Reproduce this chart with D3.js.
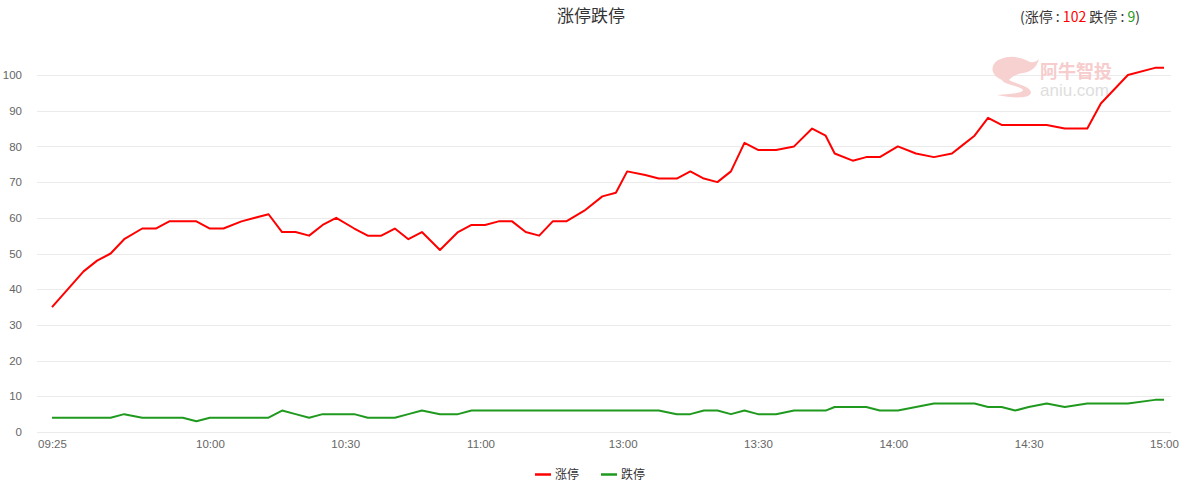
<!DOCTYPE html>
<html>
<head>
<meta charset="utf-8">
<script src="https://cdn.jsdelivr.net/npm/d3@7/dist/d3.min.js"></script>
<style>
  html, body { margin: 0; padding: 0; background: #fff; }
  svg { display: block; }
  text { font-family: "Liberation Sans", "Noto Sans CJK SC", sans-serif; }
  .cjk { font-family: "Noto Sans CJK SC", "Liberation Sans", sans-serif; }
</style>
</head>
<body>
<svg id="chart" width="1184" height="490"></svg>
<script>
// ---- data ----
const times = [
  "09:25","09:32","09:35","09:38","09:41","09:45","09:48","09:51","09:54",
  "09:57","10:00","10:03","10:07","10:10","10:13","10:16","10:19","10:22","10:25",
  "10:28","10:32","10:35","10:38","10:41","10:44","10:47","10:51","10:55","10:58",
  "11:01","11:04","11:07","11:10","11:13","11:16","11:19","11:23","11:27","11:30",
  "13:01","13:05","13:08","13:12","13:15","13:18","13:21","13:24","13:27","13:30",
  "13:34","13:38","13:42","13:45","13:47","13:51","13:54","13:57","14:01","14:05",
  "14:09","14:13","14:15","14:18","14:21","14:24","14:27","14:30","14:34","14:38",
  "14:43","14:46","14:49","14:52","14:58","15:00"
];
const limitUp = [
  35,45,48,50,54,57,57,59,59,
  59,57,57,59,60,61,56,56,55,58,
  60,57,55,55,57,54,56,51,56,58,
  58,59,59,56,55,59,59,62,66,67,
  73,72,71,71,73,71,70,73,81,79,
  79,80,85,83,78,76,77,77,80,78,
  77,78,80,83,88,86,86,86,86,85,
  85,92,96,100,102,102
];
const limitDown = [
  4,4,4,4,5,4,4,4,4,
  3,4,4,4,4,4,6,5,4,5,
  5,5,4,4,4,5,6,5,5,6,
  6,6,6,6,6,6,6,6,6,6,
  6,6,6,5,5,6,6,5,6,5,
  5,6,6,6,7,7,7,6,6,7,
  8,8,8,8,7,7,6,7,8,7,
  8,8,8,8,9,9
];
const xTickLabels = ["09:25","10:00","10:30","11:00","13:00","13:30","14:00","14:30","15:00"];
const yTicks = [0,10,20,30,40,50,60,70,80,90,100];
const seriesNames = ["涨停","跌停"];
const seriesColors = ["#ff0000","#1f9a1f"];
const titleText = "涨停跌停";
const summaryUp = 102, summaryDown = 9;

// trading-minute index (lunch break compressed)
const LUNCH_GAP = 1.5;
function tm(t) {
  const [h, m] = t.split(":").map(Number);
  const mins = h * 60 + m;
  if (mins <= 11 * 60 + 30) return mins - (9 * 60 + 25);
  return 125 + LUNCH_GAP + (mins - 13 * 60);
}

const svg = d3.select("#chart");
const gridLeft = 37, gridRight = 1171;

const x = d3.scaleLinear().domain([tm("09:25"), tm("15:00")]).range([52, 1164]);
const y = d3.scaleLinear().domain([0, 100]).range([432, 75]);

// grid
svg.append("g").selectAll("line").data(yTicks).join("line")
  .attr("x1", gridLeft).attr("x2", gridRight)
  .attr("y1", d => Math.round(y(d)) + 0.5).attr("y2", d => Math.round(y(d)) + 0.5)
  .attr("stroke", "#ebebeb").attr("stroke-width", 1);

// y axis
const yAxis = svg.append("g").attr("transform", "translate(22,0)")
  .call(d3.axisLeft(y).tickValues(yTicks).tickSize(0).tickPadding(0));
yAxis.select(".domain").remove();
yAxis.selectAll("text").attr("fill", "#666").style("font-size", "11.5px")
  .style("font-family", "Liberation Sans, sans-serif");

// x axis
const xAxis = svg.append("g").attr("transform", "translate(0,440)")
  .call(d3.axisBottom(x).tickValues(xTickLabels.map(tm))
    .tickFormat((d, i) => xTickLabels[i]).tickSize(0).tickPadding(0));
xAxis.select(".domain").remove();
xAxis.selectAll("text").attr("fill", "#666").style("font-size", "11.5px")
  .style("font-family", "Liberation Sans, sans-serif");

// watermark
const wm = svg.append("g");
wm.append("path")
  .attr("d", "M1001,59 C1010,55 1022,57 1030,62 C1034,63 1037,61 1039,59 C1037,67 1031,72 1023,73 C1016,74 1011,77 1009,80 C1016,84 1031,86 1031,93 C1029,99 1012,98 997,95 C1010,94 1023,93 1023,90 C1021,86 1004,85 1002,80 C995,77 991,72 993,66 C994,63 997,60 1001,59 Z")
  .attr("fill", "#f7d0d0");
wm.append("text").attr("class", "cjk").attr("x", 1040).attr("y", 78)
  .style("font-size", "18px").attr("fill", "#f6cccc").style("font-weight", "bold").text("阿牛智投");
wm.append("text").attr("x", 1040).attr("y", 96)
  .style("font-size", "17px").attr("fill", "#dedede").text("aniu.com");

// lines
const series = [limitUp, limitDown];
const line = d3.line().x((d, i) => x(tm(times[i]))).y(d => y(d));
series.forEach((s, k) => {
  svg.append("path").datum(s)
    .attr("fill", "none").attr("stroke", seriesColors[k])
    .attr("stroke-width", 2).attr("stroke-linejoin", "round")
    .attr("d", line);
});

// title
svg.append("text").attr("class", "cjk").attr("x", 591).attr("y", 22)
  .attr("text-anchor", "middle").style("font-size", "17px").attr("fill", "#333")
  .text(titleText);

// summary
const sum = svg.append("text").attr("class", "cjk").attr("x", 1140).attr("y", 22)
  .attr("text-anchor", "end").style("font-size", "14px").attr("fill", "#333");
sum.append("tspan").text("(" + seriesNames[0] + " : ");
sum.append("tspan").attr("fill", seriesColors[0]).text(summaryUp);
sum.append("tspan").text(" " + seriesNames[1] + " : ");
sum.append("tspan").attr("fill", seriesColors[1]).text(summaryDown);
sum.append("tspan").text(")");

// legend
const legendItems = [{x: 535, tx: 555}, {x: 601, tx: 621}];
legendItems.forEach((p, k) => {
  svg.append("line").attr("x1", p.x).attr("x2", p.x + 16)
    .attr("y1", 474.5).attr("y2", 474.5)
    .attr("stroke", seriesColors[k]).attr("stroke-width", 2.5);
  svg.append("text").attr("class", "cjk").attr("x", p.tx).attr("y", 479)
    .style("font-size", "12px").attr("fill", "#333").text(seriesNames[k]);
});
</script>
</body>
</html>
